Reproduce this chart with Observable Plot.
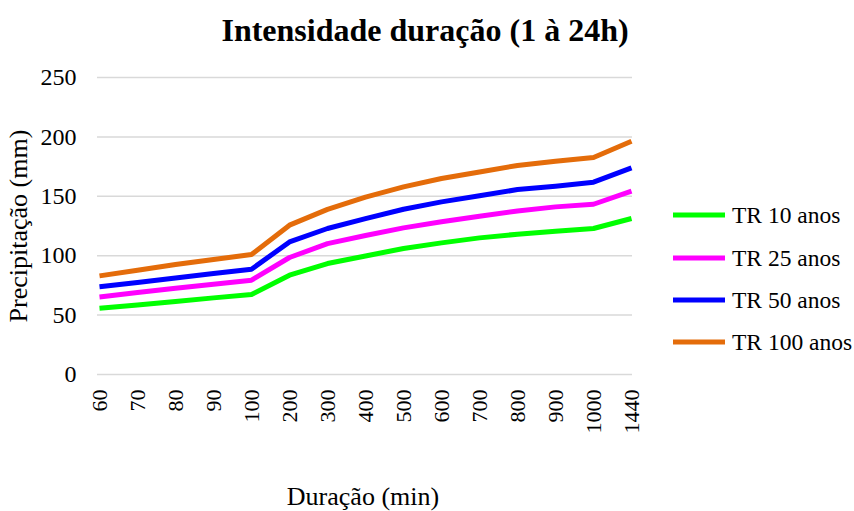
<!DOCTYPE html>
<html>
<head>
<meta charset="utf-8">
<script src="https://cdn.jsdelivr.net/npm/d3@7"></script>
<script src="https://cdn.jsdelivr.net/npm/@observablehq/plot@0.6"></script>
<style>
  html, body { margin: 0; padding: 0; background: #fff; }
  #chart { position: relative; width: 854px; height: 511px; overflow: hidden; }
  #chart svg { position: absolute; left: 0; top: 0; }
  #chart svg text { font-family: 'Liberation Serif', 'Times New Roman', serif !important; fill: #000; }
  #chart .y-axis text { font-size: 24px !important; }
  #chart .x-axis text { font-size: 22px !important; }
</style>
</head>
<body>
<div id="chart"></div>
<script>
const title = "Intensidade duração (1 à 24h)";
const xTitle = "Duração (min)";
const yTitle = "Precipitação (mm)";
const durations = ["60","70","80","90","100","200","300","400","500","600","700","800","900","1000","1440"];
const yTicks = [0, 50, 100, 150, 200, 250];
const seriesNames = ["TR 10 anos", "TR 25 anos", "TR 50 anos", "TR 100 anos"];
const seriesColors = ["#00ff00", "#ff00ff", "#0000ff", "#e46c0a"];
const tr10  = [55.8, 58.5, 61.5, 64.5, 67.3, 83.6, 93.4, 99.8, 106.0, 110.8, 115.0, 118.1, 120.6, 122.9, 131.3];
const tr25  = [65.3, 69.0, 72.6, 76.0, 79.4, 98.5, 110.2, 117.0, 123.4, 128.5, 133.2, 137.7, 141.1, 143.3, 154.3];
const tr50  = [73.8, 77.4, 81.2, 85.0, 88.6, 111.6, 122.9, 131.2, 139.1, 145.3, 150.4, 155.7, 158.5, 161.9, 174.0];
const tr100 = [83.0, 87.8, 92.6, 96.8, 101.0, 125.7, 139.0, 149.3, 157.9, 165.0, 170.5, 176.0, 179.5, 182.6, 196.4];

const allSeries = [tr10, tr25, tr50, tr100];
const rows = [];
allSeries.forEach((vals, s) => {
  vals.forEach((v, i) => rows.push({ dur: durations[i], value: v, serie: seriesNames[s] }));
});

const W = 854, H = 511;
const font = "'Liberation Serif', 'Times New Roman', serif";

const plot = Plot.plot({
  width: W,
  height: H,
  marginLeft: 97,
  marginRight: 222,
  marginTop: 77,
  marginBottom: 137,
  style: { fontFamily: font, color: "#000", background: "transparent", overflow: "visible" },
  x: { type: "point", domain: durations, padding: 0 },
  y: { domain: [0, 250], ticks: yTicks },
  color: { domain: seriesNames, range: seriesColors },
  marks: [
    Plot.gridY(yTicks, { stroke: "#d9d9d9", strokeOpacity: 1, strokeWidth: 1.5 }),
    Plot.axisY(yTicks, { tickSize: 0, tickPadding: 21, fontSize: 24, label: null, fill: "#000", className: "y-axis" }),
    Plot.axisX({ tickSize: 0, tickRotate: -90, tickPadding: 15, fontSize: 22, label: null, fill: "#000", className: "x-axis" }),
    Plot.line(rows, { x: "dur", y: "value", z: "serie", stroke: "serie", strokeWidth: 5, strokeLinejoin: "round", strokeLinecap: "butt" })
  ]
});
document.getElementById("chart").appendChild(plot);

// overlay: title, axis titles and legend
const ov = d3.select("#chart").append("svg")
  .attr("width", W).attr("height", H);

ov.append("text").attr("x", 425).attr("y", 41).attr("text-anchor", "middle")
  .attr("font-weight", "bold").attr("font-size", 32).text(title);

ov.append("text").attr("x", 363).attr("y", 505).attr("text-anchor", "middle")
  .attr("font-size", 26).text(xTitle);

ov.append("text").attr("transform", "translate(27,226) rotate(-90)").attr("text-anchor", "middle")
  .attr("font-size", 26).text(yTitle);

const legendY = [215, 258, 300, 342];
seriesNames.forEach((name, i) => {
  const g = ov.append("g");
  g.append("line").attr("x1", 673).attr("x2", 725).attr("y1", legendY[i]).attr("y2", legendY[i])
    .attr("stroke", seriesColors[i]).attr("stroke-width", 5);
  g.append("text").attr("x", 732).attr("y", legendY[i]).attr("dy", "0.35em")
    .attr("font-size", 23.5).text(name);
});
</script>
</body>
</html>
